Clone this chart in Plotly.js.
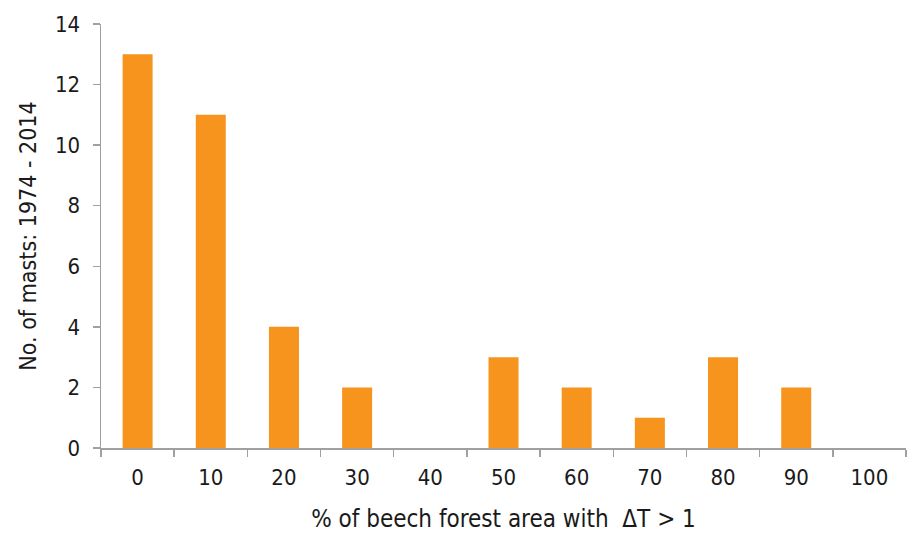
<!DOCTYPE html>
<html><head><meta charset="utf-8">
<script src="https://cdn.plot.ly/plotly-3.0.1.min.js"></script>
<style>html,body{margin:0;padding:0;background:#fff}#chart{width:915px;height:533px}</style>
</head><body><div id="chart"></div>
<script>
var categories = ["0","10","20","30","40","50","60","70","80","90","100"];
var masts = [13, 11, 4, 2, 0, 3, 2, 1, 3, 2, 0];
var yTicks = [0, 2, 4, 6, 8, 10, 12, 14];
var FONT = "DejaVu Sans Condensed, sans-serif";
Plotly.newPlot('chart', [{
  type: 'bar', x: categories, y: masts,
  marker: {color: '#F7941D', line: {width: 0}},
  hoverinfo: 'x+y'
}], {
  width: 915, height: 533,
  margin: {l: 101, r: 9, t: 24, b: 85},
  paper_bgcolor: '#fff', plot_bgcolor: '#fff',
  bargap: 0.59,
  showlegend: false,
  font: {family: FONT, size: 20, color: '#1a1a1a'},
  xaxis: {
    type: 'category', tickson: 'boundaries', ticks: 'outside', ticklen: 7, tickwidth: 1.5, tickcolor: '#a0a0a0',
    showline: true, linecolor: '#a0a0a0', linewidth: 1.5, showgrid: false, zeroline: false,
    tickfont: {family: FONT, size: 22, color: '#1a1a1a'},
    ticklabelstandoff: 9,
    title: {text: '% of beech forest area with  \u0394T > 1', font: {family: FONT, size: 24, color: '#1a1a1a'}, standoff: 22}
  },
  yaxis: {
    range: [0, 14], tickvals: yTicks, ticks: 'outside', ticklen: 7, tickwidth: 1.5, tickcolor: '#a0a0a0',
    showline: true, linecolor: '#a0a0a0', linewidth: 1.5, showgrid: false, zeroline: false,
    tickfont: {family: FONT, size: 22, color: '#1a1a1a'},
    ticklabelstandoff: 8,
    title: {text: 'No. of masts: 1974 - 2014', font: {family: FONT, size: 23, color: '#1a1a1a'}, standoff: 12}
  }
}, {displayModeBar: false, staticPlot: true});
</script></body></html>
